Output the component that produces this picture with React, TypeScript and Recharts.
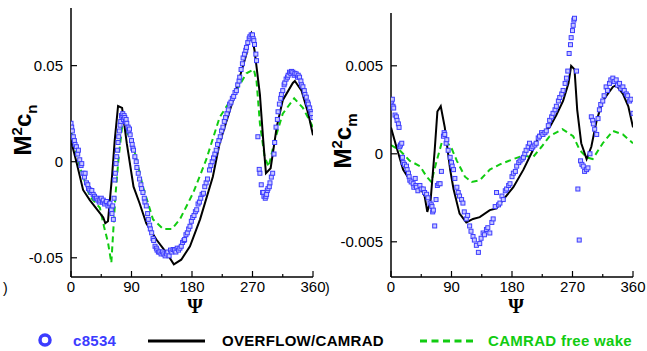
import { ComposedChart, Line, Scatter, XAxis, YAxis } from 'recharts';

// psi (deg), value pairs
const CN_EXP: [number, number][] = [
  [0, 0.020], [1, 0.018], [2, 0.016], [3.5, 0.013], [5, 0.011], [6, 0.009], [8, 0.0078], [10, 0.004], [11, 0.006],
  [13, 0.001], [15, -0.002], [16, -0.001], [18, -0.006], [20, -0.008], [21, -0.006], [23, -0.011], [25, -0.012],
  [26, -0.014], [28, -0.0147], [30, -0.016], [31, -0.015], [33, -0.017], [35, -0.018], [36, -0.019], [38, -0.019],
  [40, -0.020], [42, -0.021], [43, -0.020], [45, -0.019], [47, -0.021], [48, -0.020], [50, -0.022], [52, -0.021],
  [53, -0.0207], [55, -0.023], [57, -0.022], [58, -0.0216], [60, -0.025], [61, -0.027], [62, -0.023], [63, -0.030],
  [64, -0.019], [65, -0.0095], [66, -0.006], [67, -0.001], [68, 0.0026], [69, 0.006], [70, 0.010], [71, 0.013],
  [72, 0.016], [73, 0.019], [74, 0.021], [75, 0.024], [76, 0.023], [77, 0.025], [78, 0.022], [79, 0.024], [80, 0.023],
  [81, 0.021], [82, 0.022], [83, 0.020], [85, 0.018], [86, 0.016], [87, 0.017], [88, 0.014], [90, 0.011], [91, 0.009],
  [92, 0.007], [93, 0.006], [95, 0.0026], [97, 0.000], [98, -0.003], [100, -0.006], [102, -0.009], [104, -0.012],
  [105, -0.014], [107, -0.016], [109, -0.019], [110, -0.021], [112, -0.023], [114, -0.027], [115, -0.030],
  [117, -0.033], [118, -0.035], [120, -0.037], [122, -0.040], [123, -0.041], [125, -0.044], [127, -0.045],
  [128, -0.046], [130, -0.047], [132, -0.047], [134, -0.048], [136, -0.047], [138, -0.048], [140, -0.049],
  [142, -0.048], [144, -0.047], [146, -0.049], [148, -0.046], [150, -0.047], [152, -0.0457], [154, -0.046],
  [156, -0.047], [158, -0.045], [160, -0.046], [162, -0.045], [164, -0.044], [166, -0.042], [168, -0.041],
  [169, -0.0405], [171, -0.038], [173, -0.037], [175, -0.035], [177, -0.0336], [179, -0.031], [181, -0.029],
  [183, -0.028], [185, -0.026], [187, -0.025], [189, -0.022], [191, -0.021], [193, -0.019], [195, -0.017],
  [197, -0.0164], [199, -0.013], [201, -0.011], [203, -0.009], [206, -0.0043], [208, -0.002], [210, 0.000],
  [212, 0.002], [214, 0.004], [216, 0.006], [218, 0.009], [220, 0.011], [222, 0.013], [224, 0.016], [226, 0.018],
  [228, 0.021], [230, 0.023], [232, 0.025], [234, 0.027], [236, 0.030], [238, 0.031], [240, 0.033], [242, 0.034],
  [244, 0.036], [246, 0.037], [248, 0.040], [250, 0.042], [251, 0.044], [253, 0.048], [255, 0.051], [256, 0.054],
  [258, 0.056], [260, 0.058], [261, 0.0595], [263, 0.062], [265, 0.064], [266, 0.065], [268, 0.066], [270, 0.066],
  [271, 0.064], [272, 0.063], [273, 0.061], [275, 0.056], [276, 0.0526], [278, 0.013], [280, -0.004], [281, -0.006],
  [283, -0.012], [285, -0.016], [286, -0.016], [287, -0.018], [289, -0.019], [290, -0.018], [291, -0.017],
  [292, -0.015], [293, -0.014], [295, -0.013], [296, -0.011], [298, -0.008], [300, -0.006], [302, 0.004],
  [303, 0.010], [305, 0.018], [307, 0.022], [308, 0.026], [310, 0.030], [312, 0.033], [313, 0.035], [315, 0.037],
  [317, 0.040], [318, 0.041], [320, 0.043], [322, 0.044], [323, 0.045], [325, 0.0466], [327, 0.046], [328, 0.047],
  [330, 0.0466], [332, 0.045], [333, 0.046], [335, 0.0457], [337, 0.044], [338, 0.045], [340, 0.044], [342, 0.042],
  [343, 0.040], [345, 0.039], [347, 0.037], [348, 0.035], [350, 0.0336], [352, 0.031], [353, 0.030], [355, 0.028],
  [357, 0.026], [358, 0.025], [360, 0.023],
];

const CN_OVERFLOW: [number, number][] = [
  [0, 0.011], [8, 0.0], [18, -0.0147], [28, -0.020], [43, -0.0267], [48, -0.029], [51, -0.032], [55, -0.031],
  [61, -0.0078], [65, 0.011], [70, 0.029], [76, 0.028], [83, 0.0095], [93, -0.013], [102, -0.0216], [112, -0.032],
  [127, -0.0405], [142, -0.0474], [153, -0.0534], [164, -0.051], [177, -0.044], [192, -0.030], [211, -0.0078],
  [221, 0.0095], [241, 0.032], [261, 0.056], [266, 0.066], [268, 0.067], [273, 0.058], [281, 0.035], [286, 0.011],
  [290, -0.006], [297, -0.0034], [306, 0.018], [315, 0.032], [330, 0.041], [333, 0.042], [343, 0.037], [353, 0.025],
  [360, 0.0138],
];

const CN_FREEWAKE: [number, number][] = [
  [0, 0.016], [13, -0.0026], [28, -0.018], [43, -0.024], [49, -0.0336], [55, -0.042], [60, -0.0526], [66, -0.018],
  [71, 0.0026], [76, 0.018], [83, 0.0155], [93, 0.0078], [107, -0.013], [122, -0.030], [137, -0.035], [150, -0.035],
  [162, -0.030], [182, -0.016], [201, 0.0009], [221, 0.023], [241, 0.034], [261, 0.046], [272, 0.048], [276, 0.042],
  [281, 0.020], [288, 0.0026], [294, -0.0026], [303, 0.011], [315, 0.025], [332, 0.033], [345, 0.028], [360, 0.018],
];

const CM_EXP: [number, number][] = [
  [0, 0.0029], [1, 0.0030], [2, 0.0031], [3, 0.0027], [4, 0.0026], [6, 0.0022], [8, 0.0021], [9, 0.0019],
  [11, 0.0017], [12, 0.0015], [13, 0.0004], [14, 0.0005], [16, 0.0006], [17, -0.0002], [18, -0.0005], [20, -0.0006],
  [23, -0.0007], [24, -0.0009], [26, -0.0011], [27, -0.0013], [28, -0.0015], [30, -0.0016], [33, -0.0017],
  [34, -0.0019], [36, -0.0014], [37, -0.0018], [38, -0.0019], [40, -0.0021], [43, -0.0018], [45, -0.0020],
  [48, -0.0020], [50, -0.0022], [53, -0.0023], [55, -0.0025], [58, -0.0028], [60, -0.0029], [61, -0.0030],
  [62, -0.0033], [63, -0.0032], [65, -0.0041], [67, -0.0026], [69, -0.0018], [71, -0.0017], [73, -0.0017],
  [75, -0.0010], [78, 0.0010], [79, 0.0012], [80, 0.0011], [82, 0.0006], [83, 0.0008], [85, 0.0002], [88, -0.0002],
  [90, -0.0005], [91, -0.0007], [93, -0.0009], [95, -0.0014], [98, -0.0019], [100, -0.0022], [102, -0.0024],
  [105, -0.0026], [107, -0.0028], [109, -0.0033], [112, -0.0037], [114, -0.0035], [117, -0.0041], [119, -0.0044],
  [122, -0.0047], [124, -0.0049], [127, -0.0052], [130, -0.0056], [132, -0.0051], [134, -0.0048], [137, -0.0045],
  [139, -0.0046], [142, -0.0043], [144, -0.0042], [147, -0.0045], [150, -0.0039], [152, -0.0037], [155, -0.0030],
  [157, -0.0022], [160, -0.0029], [162, -0.0028], [165, -0.0024], [167, -0.0026], [170, -0.0021], [172, -0.0020],
  [175, -0.0018], [177, -0.0017], [180, -0.0013], [182, -0.0011], [185, -0.0010], [187, -0.0007], [190, -0.0005],
  [192, -0.0004], [195, -0.0003], [197, -0.0002], [199, 0.0000], [201, 0.0002], [204, 0.0004], [206, 0.0006],
  [209, 0.0003], [211, 0.0004], [214, 0.0005], [216, 0.0006], [219, 0.0009], [221, 0.0010], [224, 0.0012],
  [226, 0.0011], [229, 0.0012], [231, 0.0013], [234, 0.0016], [236, 0.0019], [239, 0.0021], [241, 0.0023],
  [244, 0.0025], [246, 0.0027], [249, 0.0030], [251, 0.0032], [254, 0.0034], [256, 0.0036], [259, 0.0040],
  [261, 0.0043], [263, 0.0047], [265, 0.0057], [267, 0.0062], [268, 0.0066], [270, 0.0070], [271, 0.0073],
  [272, 0.0076], [273, 0.0077], [276, 0.0047], [278, -0.0020], [280, -0.0049], [282, -0.0004], [284, -0.0006],
  [286, -0.0007], [288, -0.0010], [291, -0.0009], [293, -0.0008], [296, 0.0000], [298, 0.0021], [300, 0.0019],
  [301, 0.0017], [303, 0.0014], [306, 0.0011], [308, 0.0020], [310, 0.0025], [312, 0.0028], [315, 0.0030],
  [317, 0.0033], [320, 0.0038], [322, 0.0036], [325, 0.0040], [327, 0.0042], [330, 0.0043], [332, 0.0041],
  [335, 0.0042], [337, 0.0039], [340, 0.0040], [342, 0.0037], [345, 0.0038], [347, 0.0036], [350, 0.0034],
  [352, 0.0033], [355, 0.0030], [357, 0.0031], [360, 0.0023],
];

const CM_OVERFLOW: [number, number][] = [
  [0, 0.0015], [8, 0.0004], [18, -0.0009], [28, -0.0015], [38, -0.0020], [46, -0.0021], [50, -0.0024],
  [54, -0.0033], [59, -0.0026], [65, 0.0002], [69, 0.0024], [74, 0.0027], [80, 0.0015], [88, -0.0009],
  [93, -0.0020], [102, -0.0034], [112, -0.0039], [122, -0.0037], [132, -0.0036], [147, -0.0032], [157, -0.0031],
  [167, -0.0026], [182, -0.0019], [197, -0.0009], [211, 0.0002], [221, 0.0011], [236, 0.0015], [246, 0.0022],
  [256, 0.0030], [264, 0.0040], [268, 0.0050], [273, 0.0048], [277, 0.0025], [283, 0.0006], [291, -0.0003],
  [298, 0.0004], [306, 0.0019], [315, 0.0030], [330, 0.0038], [335, 0.0039], [345, 0.0034], [353, 0.0027],
  [360, 0.0015],
];

const CM_FREEWAKE: [number, number][] = [
  [0, 0.0005], [13, 0.0002], [28, -0.0004], [43, -0.0007], [53, -0.0013], [60, -0.0016], [68, -0.0004],
  [76, 0.0007], [88, 0.0005], [98, -0.0004], [110, -0.0013], [120, -0.0016], [132, -0.0015], [147, -0.0009],
  [162, -0.0006], [182, -0.0003], [197, -0.0001], [211, -0.0002], [224, 0.0004], [236, 0.0010], [255, 0.0014],
  [271, 0.0010], [281, 0.0002], [291, -0.0002], [300, -0.0003], [315, 0.0006], [330, 0.0013], [345, 0.0011],
  [360, 0.0006],
];

const PSI_TICKS = [0, 45, 90, 135, 180, 225, 270, 315, 360];
const CN_TICKS = [-0.05, 0, 0.05];
const CM_TICKS = [-0.005, 0, 0.005];

const BLUE = '#3c3cff';
const GREEN = '#11cc11';
const FONT = 'Liberation Sans, Arial, sans-serif';

const toRows = (pts: [number, number][]) => pts.map(([psi, v]) => ({ psi, v }));

const XTick = (props: any) => {
  const { x, y, payload } = props;
  const major = payload.value % 90 === 0;
  return (
    <g>
      <line x1={x} x2={x} y1={y} y2={y - (major ? 6 : 3)} stroke="#000" strokeWidth={1.2} />
      {major && (
        <text x={x} y={y + 15} textAnchor="middle" fontSize={15} fontFamily={FONT} fill="#000">
          {payload.value}
        </text>
      )}
    </g>
  );
};

const makeYTick = (digits: number) => (props: any) => {
  const { x, y, payload } = props;
  const v = payload.value;
  const label = v === 0 ? '0' : v.toFixed(digits);
  return (
    <g>
      <line x1={x} x2={x + 6} y1={y} y2={y} stroke="#000" strokeWidth={1.2} />
      <text x={x - 8} y={y + 5} textAnchor="end" fontSize={15} fontFamily={FONT} fill="#000">
        {label}
      </text>
    </g>
  );
};

const Square = (props: any) => {
  const { cx, cy } = props;
  if (cx == null || cy == null) return null;
  return <rect x={cx - 2} y={cy - 2} width={4} height={4} fill="#c8c8ff" stroke={BLUE} strokeWidth={1} />;
};

function Panel(props: {
  exp: [number, number][];
  overflow: [number, number][];
  freewake: [number, number][];
  domain: [number, number];
  ticks: number[];
  digits: number;
  top: number;
}) {
  return (
    <ComposedChart
      width={330}
      height={300}
      margin={{ top: props.top, right: 17, bottom: 3, left: 11 }}
    >
      <XAxis
        dataKey="psi"
        type="number"
        domain={[0, 360]}
        ticks={PSI_TICKS}
        height={20}
        tickSize={0}
        tickMargin={0}
        tickLine={false}
        axisLine={{ stroke: '#000', strokeWidth: 1.5 }}
        tick={XTick}
        allowDataOverflow
      />
      <YAxis
        dataKey="v"
        type="number"
        domain={props.domain}
        ticks={props.ticks}
        width={60}
        tickSize={0}
        tickMargin={0}
        tickLine={false}
        axisLine={{ stroke: '#000', strokeWidth: 1.5 }}
        tick={makeYTick(props.digits)}
        allowDataOverflow
      />
      <Scatter data={toRows(props.exp)} dataKey="v" shape={Square} isAnimationActive={false} />
      <Line
        data={toRows(props.freewake)}
        dataKey="v"
        type="linear"
        stroke={GREEN}
        strokeWidth={2}
        strokeDasharray="6 4"
        dot={false}
        isAnimationActive={false}
      />
      <Line
        data={toRows(props.overflow)}
        dataKey="v"
        type="linear"
        stroke="#000"
        strokeWidth={2}
        dot={false}
        isAnimationActive={false}
      />
    </ComposedChart>
  );
}

const YTitle = ({ sub, x, y }: { sub: string; x: number; y: number }) => (
  <div
    style={{
      position: 'absolute',
      left: x,
      top: y,
      transform: 'translate(-50%, -50%) rotate(-90deg)',
      fontFamily: FONT,
      fontWeight: 'bold',
      fontSize: 24,
      lineHeight: 1,
      whiteSpace: 'nowrap',
    }}
  >
    M<span style={{ fontSize: 15, verticalAlign: 'super' }}>2</span>c
    <span style={{ fontSize: 15, verticalAlign: 'sub' }}>{sub}</span>
  </div>
);

const Psi = ({ x }: { x: number }) => (
  <div
    style={{
      position: 'absolute',
      left: x,
      top: 306,
      transform: 'translate(-50%, -50%)',
      fontFamily: 'Liberation Serif, serif',
      fontWeight: 'bold',
      fontSize: 20,
      lineHeight: 1,
    }}
  >
    Ψ
  </div>
);

const legendText = { fontFamily: FONT, fontWeight: 'bold' as const, fontSize: 15, letterSpacing: 0.3, lineHeight: '17px', position: 'absolute' as const, top: 332 };

export default function App() {
  return (
    <div style={{ position: 'absolute', left: 0, top: 0, width: 647, height: 351, overflow: 'hidden', background: '#fff' }}>
      <div style={{ position: 'absolute', left: 0, top: 0 }}>
        <Panel exp={CN_EXP} overflow={CN_OVERFLOW} freewake={CN_FREEWAKE} domain={[-0.06, 0.08]} ticks={CN_TICKS} digits={2} top={8} />
      </div>
      <div style={{ position: 'absolute', left: 320, top: 0 }}>
        <Panel exp={CM_EXP} overflow={CM_OVERFLOW} freewake={CM_FREEWAKE} domain={[-0.007, 0.008]} ticks={CM_TICKS} digits={3} top={13} />
      </div>
      <YTitle sub="n" x={24} y={130} />
      <YTitle sub="m" x={344} y={141} />
      <Psi x={195} />
      <Psi x={516} />
      <div style={{ position: 'absolute', left: 3, top: 280, fontFamily: FONT, fontSize: 14 }}>)</div>
      <div style={{ position: 'absolute', left: 325, top: 280, fontFamily: FONT, fontSize: 14 }}>)</div>
      <svg style={{ position: 'absolute', left: 0, top: 330 }} width={647} height={21}>
        <circle cx={45} cy={10} r={5} fill="none" stroke={BLUE} strokeWidth={3.5} />
        <line x1={148} x2={205} y1={11} y2={11} stroke="#000" strokeWidth={3} />
        <line x1={420} x2={477} y1={11} y2={11} stroke={GREEN} strokeWidth={3} strokeDasharray="7 4.5" />
      </svg>
      <div style={{ ...legendText, left: 73, color: BLUE }}>c8534</div>
      <div style={{ ...legendText, left: 222, color: '#000' }}>OVERFLOW/CAMRAD</div>
      <div style={{ ...legendText, left: 488, color: GREEN }}>CAMRAD free wake</div>
    </div>
  );
}
